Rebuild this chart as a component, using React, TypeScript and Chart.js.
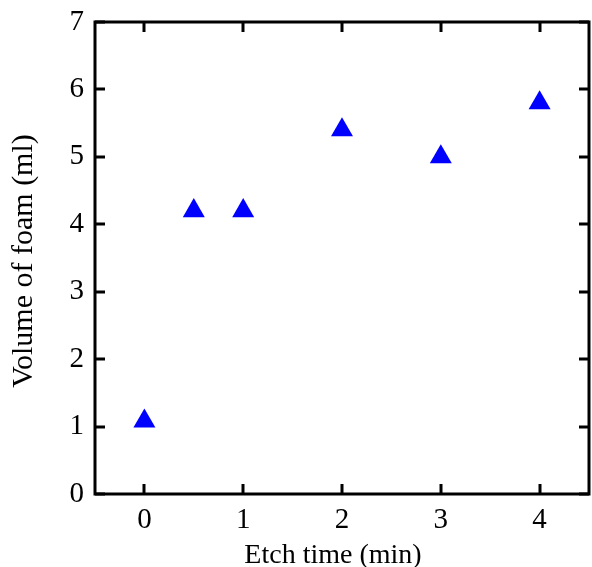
import React, { useEffect, useRef } from "react";
import { Chart, registerables } from "chart.js";

Chart.register(...registerables);

const etchTimes = [0, 0.5, 1, 2, 3, 4];
const foamVolumes = [1.08, 4.2, 4.2, 5.4, 5.0, 5.8];
const xTickValues = [0, 1, 2, 3, 4];
const yTickValues = [0, 1, 2, 3, 4, 5, 6, 7];
const xTitle = "Etch time (min)";
const yTitle = "Volume of foam (ml)";

const FONT = "'Liberation Serif', 'Times New Roman', serif";

const boxPlugin = {
  id: "boxTicks",
  afterDraw(chart: any) {
    const { ctx, chartArea } = chart;
    const { left, right, top, bottom } = chartArea;
    const xs = chart.scales.x;
    const ys = chart.scales.y;
    const len = 10;
    ctx.save();
    ctx.strokeStyle = "#000";
    ctx.lineWidth = 3;
    ctx.beginPath();
    xTickValues.forEach((v) => {
      const px = Math.round(xs.getPixelForValue(v));
      ctx.moveTo(px, bottom);
      ctx.lineTo(px, bottom - len);
      ctx.moveTo(px, top);
      ctx.lineTo(px, top + len);
    });
    yTickValues.forEach((v) => {
      const py = Math.round(ys.getPixelForValue(v));
      ctx.moveTo(left, py);
      ctx.lineTo(left + len, py);
      ctx.moveTo(right, py);
      ctx.lineTo(right - len, py);
    });
    ctx.stroke();
    ctx.strokeRect(left, top, right - left, bottom - top);

    // axis titles
    ctx.fillStyle = "#000";
    ctx.textAlign = "center";
    ctx.textBaseline = "alphabetic";
    ctx.font = `28px ${FONT}`;
    ctx.fillText(xTitle, (left + right) / 2 - 9, chart.height - 4);
    ctx.translate(32, (top + bottom) / 2 + 3);
    ctx.rotate(-Math.PI / 2);
    ctx.font = `30px ${FONT}`;
    ctx.fillText(yTitle, 0, 0);
    ctx.restore();
  },
};

const zeroPad = (s: any) => {
  s.paddingTop = 0;
  s.paddingBottom = 0;
  s.paddingLeft = 0;
  s.paddingRight = 0;
};

export default function App() {
  const ref = useRef<HTMLCanvasElement | null>(null);
  useEffect(() => {
    if (!ref.current) return;
    const chart = new Chart(ref.current, {
      type: "scatter",
      data: {
        datasets: [
          {
            data: etchTimes.map((x, i) => ({ x, y: foamVolumes[i] })),
            pointStyle: "triangle",
            pointRadius: 12.7,
            pointHoverRadius: 12.7,
            backgroundColor: "#0000ff",
            borderColor: "#0000ff",
            borderWidth: 0,
            showLine: false,
          },
        ],
      },
      plugins: [boxPlugin],
      options: {
        responsive: false,
        animation: false,
        events: [],
        layout: { autoPadding: false, padding: { left: 0, top: 22, right: 3, bottom: 0 } },
        plugins: { legend: { display: false }, tooltip: { enabled: false } },
        scales: {
          x: {
            type: "linear",
            min: -0.5,
            max: 4.5,
            afterBuildTicks: (s: any) => {
              s.ticks = xTickValues.map((v) => ({ value: v }));
            },
            afterFit: (s: any) => {
              s.height = 73;
              zeroPad(s);
            },
            grid: { display: false, drawTicks: false },
            border: { display: false },
            ticks: {
              color: "#000",
              padding: 9,
              maxRotation: 0,
              font: { family: FONT, size: 29 },
              callback: (v: any) => String(v),
            },
            title: { display: false },
          },
          y: {
            type: "linear",
            min: 0,
            max: 7,
            afterBuildTicks: (s: any) => {
              s.ticks = yTickValues.map((v) => ({ value: v }));
            },
            afterFit: (s: any) => {
              s.width = 95;
              zeroPad(s);
            },
            grid: { display: false, drawTicks: false },
            border: { display: false },
            ticks: {
              color: "#000",
              padding: 11,
              font: { family: FONT, size: 29 },
              callback: (v: any) => String(v),
            },
            title: { display: false },
          },
        },
      },
    });
    return () => chart.destroy();
  }, []);
  return (
    <div style={{ position: "absolute", left: 0, top: 0, width: 592, height: 567, background: "#fff", overflow: "hidden" }}>
      <canvas ref={ref} width={592} height={567} style={{ display: "block", width: 592, height: 567 }} />
    </div>
  );
}
